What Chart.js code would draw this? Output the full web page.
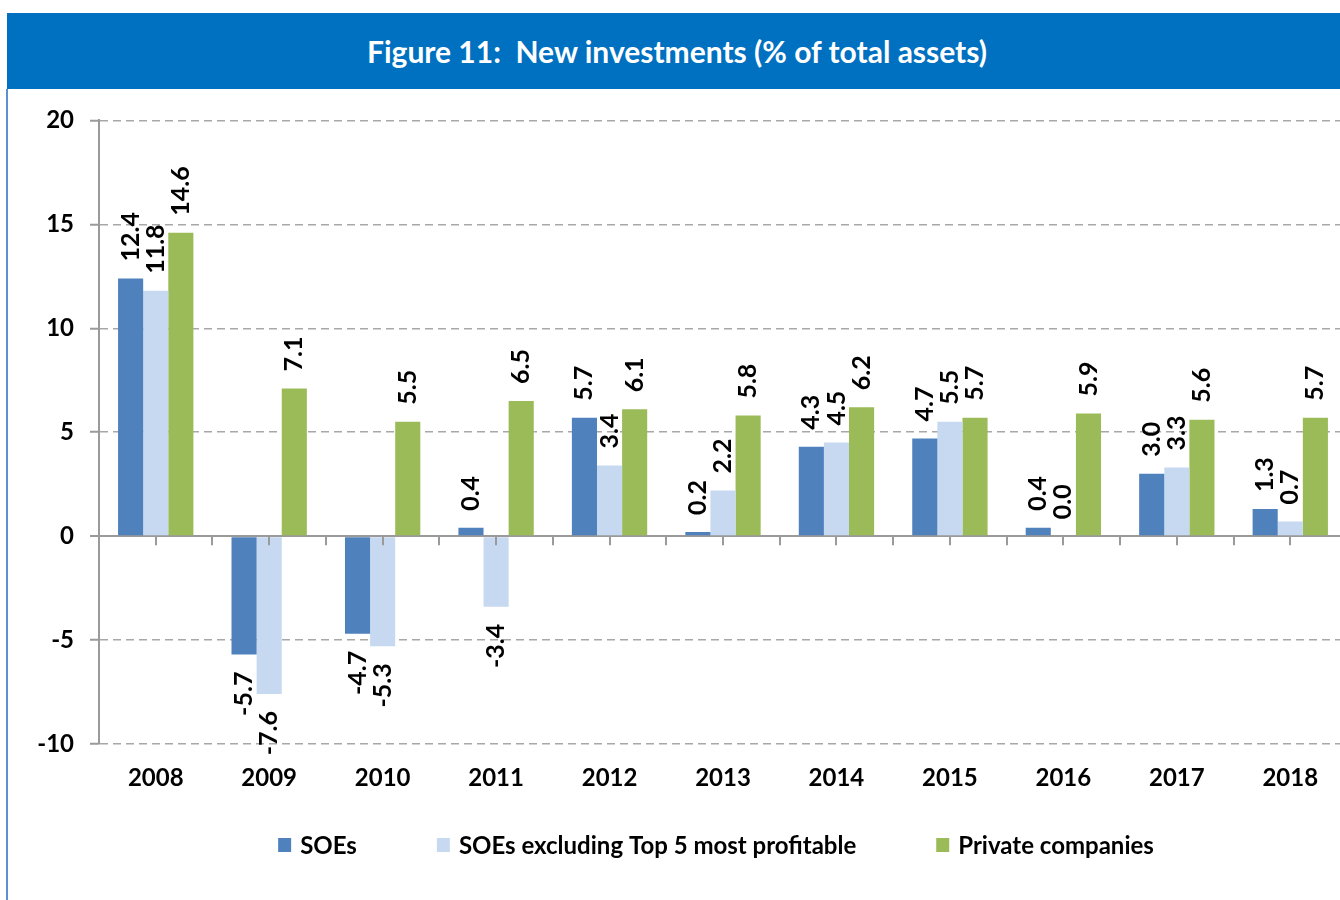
<!DOCTYPE html>
<html>
<head>
<meta charset="utf-8">
<title>Figure 11: New investments (% of total assets)</title>
<script src="https://cdn.jsdelivr.net/npm/chart.js@4.4.1/dist/chart.umd.min.js"></script>
<style>
    html, body {
        margin: 0;
        padding: 0;
        width: 1340px;
        height: 900px;
        overflow: hidden;
        background: #ffffff;
        font-family: Lato, 'Open Sans', sans-serif;
    }
    .header {
        position: absolute;
        left: 7px;
        top: 13px;
        width: 1340px;
        height: 76px;
        background: #0070c0;
        color: #ffffff;
        font-weight: bold;
        font-size: 30px;
        line-height: 76px;
        text-align: center;
        white-space: pre;
    }
    .frame {
        position: absolute;
        left: 6px;
        top: 89px;
        width: 2px;
        height: 811px;
        background: #5b8fd6;
    }
    .chart-box {
        position: absolute;
        left: 8px;
        top: 90px;
        width: 1340px;
        height: 810px;
    }
</style>
</head>
<body>
<div class="header">Figure 11:  New investments (% of total assets)</div>
<div class="frame"></div>
<div class="chart-box"><canvas id="investChart"></canvas></div>
<script>
const years = ['2008', '2009', '2010', '2011', '2012', '2013', '2014', '2015', '2016', '2017', '2018'];
const soes = [12.4, -5.7, -4.7, 0.4, 5.7, 0.2, 4.3, 4.7, 0.4, 3.0, 1.3];
const soesExTop5 = [11.8, -7.6, -5.3, -3.4, 3.4, 2.2, 4.5, 5.5, 0.0, 3.3, 0.7];
const privateCos = [14.6, 7.1, 5.5, 6.5, 6.1, 5.8, 6.2, 5.7, 5.9, 5.6, 5.7];
const yTicks = [-10, -5, 0, 5, 10, 15, 20];

const AXIS_GREY = '#9a9a9a';

// value labels, rotated, just past the end of each bar
const barLabels = {
    id: 'barLabels',
    afterDatasetsDraw: (chart) => {
        const { ctx } = chart;
        ctx.save();
        ctx.font = 'bold 25px Lato';
        ctx.fillStyle = '#000000';
        ctx.textBaseline = 'middle';
        chart.data.datasets.forEach((ds, di) => {
            const meta = chart.getDatasetMeta(di);
            meta.data.forEach((bar, i) => {
                const v = ds.data[i];
                if (v === null || v === undefined) return;
                ctx.save();
                ctx.translate(bar.x, bar.y);
                ctx.rotate(-Math.PI / 2);
                ctx.textAlign = v >= 0 ? 'left' : 'right';
                ctx.fillText(v.toFixed(1), v >= 0 ? 17 : -17, 0);
                ctx.restore();
            });
        });
        ctx.restore();
    }
};

// small tick marks hanging under the zero line, every half category
const zeroTicks = {
    id: 'zeroTicks',
    afterDatasetsDraw: (chart) => {
        const { ctx } = chart;
        const xs = chart.scales.x;
        const y0 = chart.scales.y.getPixelForValue(0);
        ctx.save();
        ctx.strokeStyle = AXIS_GREY;
        ctx.lineWidth = 2;
        ctx.beginPath();
        for (let k = 0; k <= years.length * 2; k++) {
            const px = Math.round(xs.getPixelForValue(-0.5 + k * 0.5));
            ctx.moveTo(px, y0);
            ctx.lineTo(px, y0 + 9);
        }
        ctx.stroke();
        ctx.restore();
    }
};

// one-row legend with wide gaps between entries
const legendRow = {
    id: 'legendRow',
    afterDraw: (chart) => {
        const { ctx, chartArea } = chart;
        const boxW = 13;
        const boxH = 14;
        const boxGap = 9;
        const itemGap = 80;
        ctx.save();
        ctx.font = 'bold 24px Lato';
        ctx.textBaseline = 'middle';
        ctx.textAlign = 'left';
        const items = chart.data.datasets.map((ds) => ({
            text: ds.label,
            color: ds.backgroundColor,
            w: boxW + boxGap + ctx.measureText(ds.label).width
        }));
        const total = items.reduce((s, it) => s + it.w, 0) + itemGap * (items.length - 1);
        let x = (chartArea.left + chartArea.right) / 2 - 7 - total / 2;
        const y = chartArea.bottom + 101;
        items.forEach((it) => {
            ctx.fillStyle = it.color;
            ctx.fillRect(x, y - boxH / 2, boxW, boxH);
            ctx.fillStyle = '#000000';
            ctx.fillText(it.text, x + boxW + boxGap, y + 1);
            x += it.w + itemGap;
        });
        ctx.restore();
    }
};

Chart.defaults.font.family = 'Lato';
Chart.defaults.font.weight = 'bold';
Chart.defaults.color = '#000000';

new Chart(document.getElementById('investChart'), {
    type: 'bar',
    data: {
        labels: years,
        datasets: [
            {
                label: 'SOEs',
                data: soes,
                backgroundColor: '#4f81bd'
            },
            {
                label: 'SOEs excluding Top 5 most profitable',
                data: soesExTop5,
                backgroundColor: '#c6d9f1'
            },
            {
                label: 'Private companies',
                data: privateCos,
                backgroundColor: '#9bbb59'
            }
        ]
    },
    options: {
        responsive: true,
        maintainAspectRatio: false,
        animation: false,
        categoryPercentage: 0.664,
        barPercentage: 1.0,
        layout: {
            padding: { top: 29, right: 1, bottom: 107, left: 0 }
        },
        scales: {
            x: {
                grid: { display: false, drawTicks: false },
                border: { display: false },
                ticks: {
                    padding: 20,
                    font: { size: 24, weight: 'bold' }
                },
                afterFit: (scale) => { scale.height = 49; }
            },
            y: {
                min: -10,
                max: 20,
                afterBuildTicks: (scale) => {
                    scale.ticks = yTicks.map((value) => ({ value }));
                },
                grid: {
                    color: (ctx) => (ctx.tick && ctx.tick.value === 0 ? AXIS_GREY : '#a8a8a8'),
                    lineWidth: (ctx) => (ctx.tick && ctx.tick.value === 0 ? 2 : 1.5),
                    tickColor: AXIS_GREY,
                    tickLength: 9,
                    tickWidth: 2
                },
                border: {
                    display: true,
                    color: AXIS_GREY,
                    width: 2,
                    dash: (ctx) => (ctx.tick && ctx.tick.value !== 0 ? [8, 5] : [])
                },
                ticks: {
                    padding: 16,
                    font: { size: 24, weight: 'bold' }
                },
                afterFit: (scale) => { scale.width = 91; }
            }
        },
        plugins: {
            legend: { display: false },
            tooltip: { enabled: false }
        }
    },
    plugins: [zeroTicks, barLabels, legendRow]
});
</script>
</body>
</html>
